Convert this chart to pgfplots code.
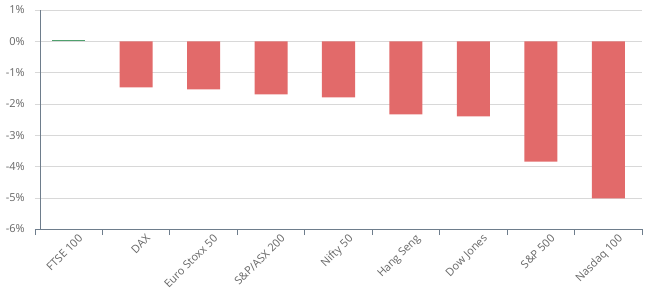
\documentclass[border=0pt]{standalone}
\usepackage{pgfplots}
\pgfplotsset{compat=1.18}
\usepackage{fontspec}
\setmainfont{Open Sans}
\definecolor{barred}{RGB}{226,106,106}
\definecolor{bargreen}{RGB}{80,160,110}
\definecolor{axcol}{RGB}{110,125,140}
\definecolor{gridcol}{RGB}{216,216,216}
\definecolor{lblcol}{RGB}{102,102,102}
\begin{document}
\begin{tikzpicture}
\begin{axis}[
  scale only axis,
  width=607pt, height=219pt,
  xmin=-0.5, xmax=8.5,
  ymin=-6, ymax=1,
  ybar, bar width=0.49, bar shift=0pt,
  axis x line*=bottom, axis y line*=left,
  x axis line style={draw=axcol, thick},
  y axis line style={draw=none},
  xtick={0,...,8},
  xticklabels={FTSE 100,DAX,Euro Stoxx 50,S\&P/ASX 200,Nifty 50,Hang Seng,Dow Jones,S\&P 500,Nasdaq 100},
  x tick label style={xshift=9pt, yshift=0pt, rotate=45, anchor=north east, inner sep=0pt},
  major x tick style={draw=none},
  extra x ticks={-0.5,0.5,1.5,2.5,3.5,4.5,5.5,6.5,7.5,8.5},
  extra x tick labels={},
  extra x tick style={major tick length=6pt, xtick align=outside, major x tick style={draw=axcol, thick}, grid=none},
  ytick={-6,-5,-4,-3,-2,-1,0,1},
  yticklabel={\pgfmathprintnumber{\tick}\%},
  /pgf/number format/assume math mode=true,
  ymajorgrids, major grid style={draw=gridcol},
  major y tick style={draw=none},
  y tick label style={anchor=east, inner sep=0pt, xshift=-10pt},
  tick label style={font=\fontsize{11}{13}\selectfont, text=lblcol},
  clip=false,
]
\addplot[fill=barred, draw=none] coordinates {(1,-1.47) (2,-1.54) (3,-1.70) (4,-1.79) (5,-2.34) (6,-2.40) (7,-3.85) (8,-5.02)};
\addplot[fill=bargreen, draw=none] coordinates {(0,0.05)};
\draw[axcol, thick] (axis cs:-0.426,-6) -- (axis cs:-0.426,1);
\end{axis}
\pgfresetboundingbox
\path ([xshift=-35pt,yshift=-65pt]current axis.south west) rectangle ([xshift=8pt,yshift=10pt]current axis.north east);
\end{tikzpicture}
\end{document}
